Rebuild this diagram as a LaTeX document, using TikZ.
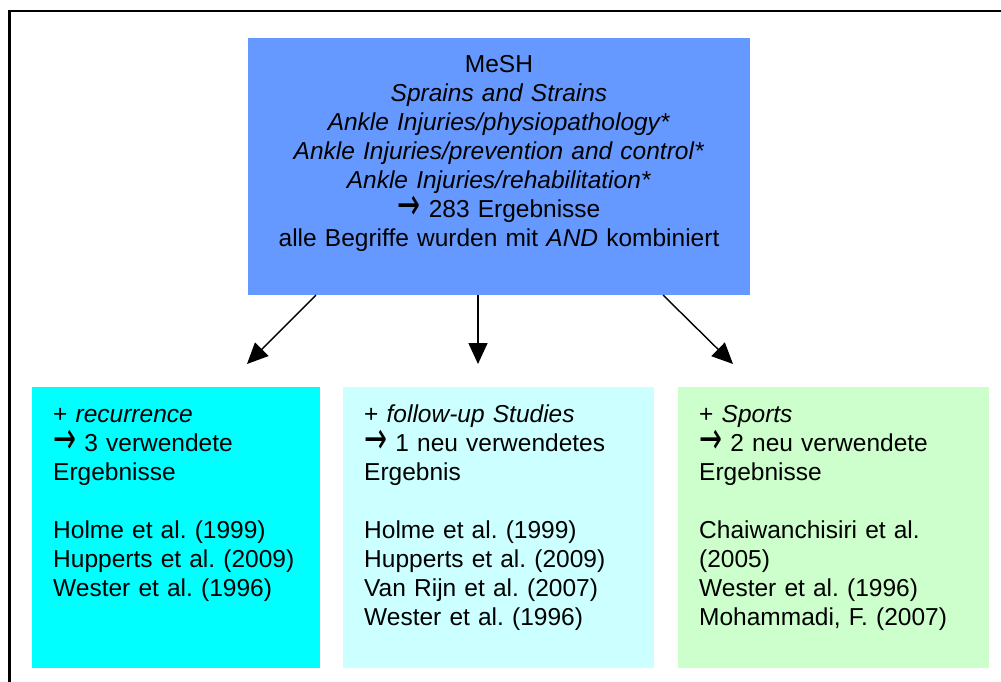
\documentclass[tikz,border=0pt]{standalone}
\usepackage{fontspec}
\usepackage{graphicx}
\setmainfont{Liberation Sans}
\newfontfamily\rarrfont{DejaVu Sans}
\newcommand\rarr{\smash{\raisebox{-2pt}{\scalebox{1.12}[1.8]{\rarrfont →}}}}
\usetikzlibrary{arrows.meta}
\definecolor{topblue}{RGB}{102,153,255}
\definecolor{boxcyan}{RGB}{0,255,255}
\definecolor{boxlightcyan}{RGB}{204,255,255}
\definecolor{boxgreen}{RGB}{204,255,204}
\tikzset{
  box/.style={draw=none, inner sep=0pt, anchor=north west},
  toptext/.style={inner sep=0pt, align=center, text width=490pt, anchor=base,
    font=\fontsize{24.5}{29}\selectfont},
  bottext/.style={inner sep=0pt, align=left, text width=280pt, anchor=base west,
    font=\fontsize{24.5}{29}\selectfont},
  arr/.style={line width=1.4pt, -{Triangle[length=21pt,width=19pt]}},
  frame/.style={line width=2.6pt}
}
\frenchspacing
\begin{document}
\begin{tikzpicture}[x=1pt,y=-1pt]
\useasboundingbox (0,0) rectangle (1001,681);
\fill[white] (0,0) rectangle (1001,681);
\draw[frame] (9.3,700) -- (9.3,11) -- (1020,11);
% boxes
\node[box, fill=topblue, minimum width=502pt, minimum height=257pt] (top) at (248,38) {};
\node[box, fill=boxcyan, minimum width=288pt, minimum height=281pt] (left) at (32,387) {};
\node[box, fill=boxlightcyan, minimum width=311pt, minimum height=281pt] (mid) at (343,387) {};
\node[box, fill=boxgreen, minimum width=311pt, minimum height=281pt] (right) at (678,387) {};
% texts
\node[toptext] (toptxt) at (499,72) {\frenchspacing MeSH\\
\textit{Sprains and Strains}\\
\textit{Ankle Injuries/physiopathology*}\\
\textit{Ankle Injuries/prevention and control*}\\
\textit{Ankle Injuries/rehabilitation*}\\
\rarr\ 283 Ergebnisse\\
alle Begriffe wurden mit \textit{AND} kombiniert};
\node[bottext] (lefttxt) at (53,422) {\frenchspacing + \textit{recurrence}\\
\rarr\ 3 verwendete\\
Ergebnisse\\[29pt]
Holme et al. (1999)\\
Hupperts et al. (2009)\\
Wester et al. (1996)};
\node[bottext] (midtxt) at (364,422) {\frenchspacing + \textit{follow-up Studies}\\
\rarr\ 1 neu verwendetes\\
Ergebnis\\[29pt]
Holme et al. (1999)\\
Hupperts et al. (2009)\\
Van Rijn et al. (2007)\\
Wester et al. (1996)};
\node[bottext] (righttxt) at (699,422) {\frenchspacing + \textit{Sports}\\
\rarr\ 2 neu verwendete\\
Ergebnisse\\[29pt]
Chaiwanchisiri et al.\\
(2005)\\
Wester et al. (1996)\\
Mohammadi, F. (2007)};
% arrows
\coordinate (s1) at (316,295);
\coordinate (e1) at (247,364);
\coordinate (s2) at (478,295);
\coordinate (e2) at (478,364);
\coordinate (s3) at (663,295);
\coordinate (e3) at (733,364);
\draw[arr] (s1) -- (e1);
\draw[arr] (s2) -- (e2);
\draw[arr] (s3) -- (e3);
\end{tikzpicture}
\end{document}
